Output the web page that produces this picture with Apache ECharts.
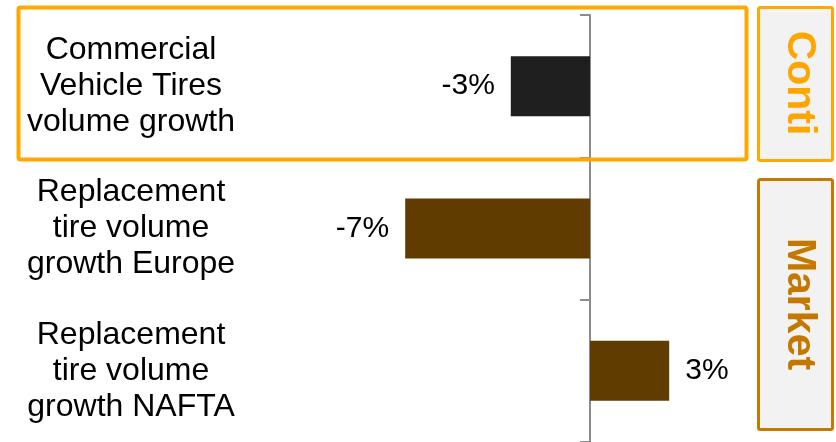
<!DOCTYPE html>
<html>
<head>
<meta charset="utf-8">
<script src="https://cdn.jsdelivr.net/npm/echarts@6/dist/echarts.min.js"></script>
<style>html,body{margin:0;padding:0;background:#fff;}#c{width:836px;height:442px;}</style>
</head>
<body>
<div id="c"></div>
<script>
var categories = ['Commercial\nVehicle Tires\nvolume growth', 'Replacement\ntire volume\ngrowth Europe', 'Replacement\ntire volume\ngrowth NAFTA'];
var values = [-3, -7, 3];
var barColors = ['#1f1f1f', '#603c00', '#603c00'];
var groupLabels = ['Conti', 'Market'];

var FONT = '"Liberation Sans", Arial, sans-serif';
var chart = echarts.init(document.getElementById('c'), null, {renderer: 'canvas'});
chart.setOption({
  animation: false,
  grid: {left: 326, right: 114, top: 15, bottom: -4, containLabel: false},
  xAxis: {type: 'value', min: -10, max: 5, show: false},
  yAxis: [{
    type: 'category', data: categories, inverse: true,
    axisLine: {show: true, onZero: true, lineStyle: {color: '#8c8c8c', width: 2}},
    axisTick: {show: true, length: 10, lineStyle: {color: '#8c8c8c', width: 2}},
    axisLabel: {show: false},
    splitLine: {show: false}
  }, {
    type: 'category', data: categories, inverse: true, position: 'left',
    axisLine: {show: false, onZero: false},
    axisTick: {show: false},
    axisLabel: {show: true, margin: 195, align: 'center', fontSize: 32, lineHeight: 36, color: '#000', fontFamily: FONT},
    splitLine: {show: false}
  }],
  series: [{
    type: 'bar', yAxisIndex: 0, barWidth: 60,
    data: values.map(function (v, i) {
      return {value: v, itemStyle: {color: barColors[i]},
        label: {show: true, position: v < 0 ? 'left' : 'right', distance: 16,
          formatter: function (p) { return p.value + '%'; },
          fontSize: 30, color: '#000', fontFamily: FONT}};
    })
  }],
  graphic: [
    {type: 'rect', shape: {x: 18.5, y: 7.5, width: 728, height: 152, r: 2}, style: {fill: 'none', stroke: '#ffa800', lineWidth: 4}, z: 100},
    {type: 'rect', shape: {x: 758.5, y: 7.5, width: 74, height: 153, r: 2}, style: {fill: '#f2f2f2', stroke: '#ffa800', lineWidth: 3}},
    {type: 'rect', shape: {x: 758.5, y: 179.5, width: 74, height: 250, r: 2}, style: {fill: '#f2f2f2', stroke: '#c47a00', lineWidth: 3}},
    {type: 'text', x: 799, y: 83, rotation: -Math.PI / 2, style: {text: groupLabels[0], x: 0, y: 0, textAlign: 'center', textVerticalAlign: 'middle', fill: '#ffa500', font: 'bold 41px ' + FONT}},
    {type: 'text', x: 799, y: 304, rotation: -Math.PI / 2, style: {text: groupLabels[1], x: 0, y: 0, textAlign: 'center', textVerticalAlign: 'middle', fill: '#c47800', font: 'bold 41px ' + FONT}}
  ]
});
</script>
</body>
</html>
